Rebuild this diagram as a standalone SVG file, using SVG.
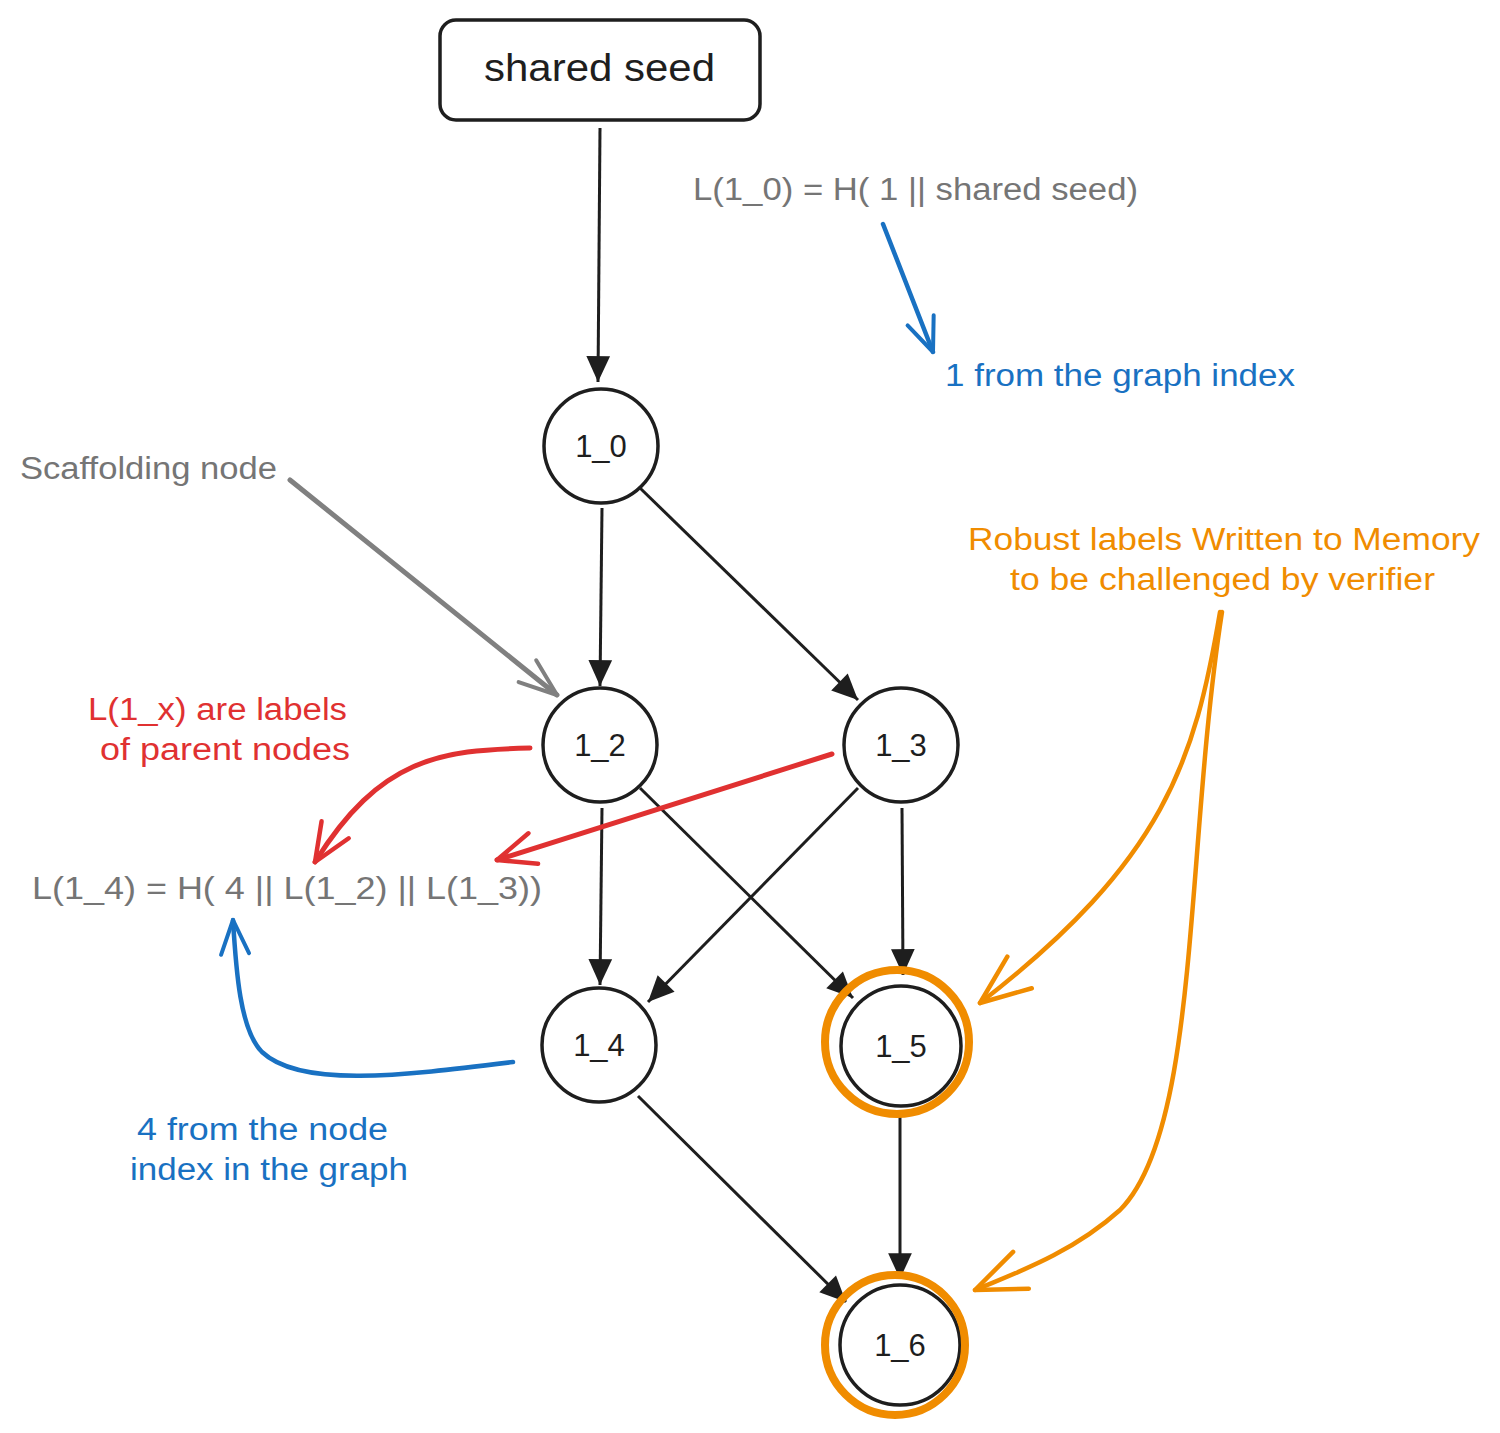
<svg xmlns="http://www.w3.org/2000/svg" width="1500" height="1433" viewBox="0 0 1500 1433">
<style>
.node{fill:#fff;stroke:#1e1e1e;stroke-width:3.5}
.nl{font-family:"Liberation Sans",sans-serif;font-size:31px;fill:#1e1e1e;text-anchor:middle}
.big{font-size:38px}
.t{font-family:"Liberation Sans",sans-serif;font-size:31px}
.gray{fill:#757575}.blue{fill:#1971c2}.red{fill:#e03131}.orange{fill:#f08c00}
.e{fill:none;stroke:#1e1e1e;stroke-width:3;marker-end:url(#ah)}
.ring{fill:none;stroke:#f08c00;stroke-width:8}
</style>
<defs>
<marker id="ah" viewBox="0 0 26 26" refX="25" refY="13" markerWidth="28" markerHeight="28" markerUnits="userSpaceOnUse" orient="auto"><path d="M1,2 L25,13 L1,24 Z" fill="#1e1e1e"/></marker>
<marker id="ob" viewBox="0 0 40 40" refX="37" refY="20" markerWidth="40" markerHeight="40" markerUnits="userSpaceOnUse" orient="auto"><path d="M3,6 L37,20 L3,34" fill="none" stroke="#1971c2" stroke-width="4" stroke-linecap="round" stroke-linejoin="round"/></marker>
<marker id="or" viewBox="0 0 44 44" refX="41" refY="22" markerWidth="44" markerHeight="44" markerUnits="userSpaceOnUse" orient="auto"><path d="M3,6 L41,22 L3,38" fill="none" stroke="#e03131" stroke-width="4.5" stroke-linecap="round" stroke-linejoin="round"/></marker>
<marker id="og" viewBox="0 0 44 44" refX="41" refY="22" markerWidth="44" markerHeight="44" markerUnits="userSpaceOnUse" orient="auto"><path d="M3,8 L41,22 L3,36" fill="none" stroke="#808080" stroke-width="4" stroke-linecap="round" stroke-linejoin="round"/></marker>
<marker id="oo" viewBox="0 0 56 56" refX="53" refY="28" markerWidth="56" markerHeight="56" markerUnits="userSpaceOnUse" orient="auto"><path d="M3,8 L53,28 L3,48" fill="none" stroke="#f08c00" stroke-width="4.5" stroke-linecap="round" stroke-linejoin="round"/></marker>
</defs>

<g id="connectors">
<path class="e" d="M600,128 L598,382"/>
<path class="e" d="M602,508 L600,686"/>
<path class="e" d="M640,488 L858,700"/>
<path class="e" d="M602,808 L600,985"/>
<path class="e" d="M640,788 L853,998"/>
<path class="e" d="M858,788 L648,1002"/>
<path class="e" d="M902,808 L903,975"/>
<path class="e" d="M638,1096 L846,1302"/>
<path class="e" d="M900,1115 L900,1279"/>
<path d="M883,224 L933,352" fill="none" stroke="#1971c2" stroke-width="4.5" stroke-linecap="round" marker-end="url(#ob)"/>
<path d="M290,480 L557,695" fill="none" stroke="#808080" stroke-width="5" stroke-linecap="round" marker-end="url(#og)"/>
<path d="M530,748 C440,750 380,758 315,862" fill="none" stroke="#e03131" stroke-width="5" stroke-linecap="round" marker-end="url(#or)"/>
<path d="M832,754 L497,860" fill="none" stroke="#e03131" stroke-width="5" stroke-linecap="round" marker-end="url(#or)"/>
<path d="M513,1062 C400,1076 300,1088 262,1052 C240,1030 236,970 233,920" fill="none" stroke="#1971c2" stroke-width="4.5" stroke-linecap="round" marker-end="url(#ob)"/>
<path d="M1220,612 C1195,760 1165,860 980,1003" fill="none" stroke="#f08c00" stroke-width="4.5" stroke-linecap="round" marker-end="url(#oo)"/>
<path d="M1222,612 C1185,850 1200,1130 1120,1210 C1070,1255 1010,1275 975,1290" fill="none" stroke="#f08c00" stroke-width="4.5" stroke-linecap="round" marker-end="url(#oo)"/>
</g>

<g id="seed">
<rect x="440" y="20" width="320" height="100" rx="16" class="node"/>
<text x="484" y="81" class="nl big" text-anchor="start" style="text-anchor:start" textLength="231" lengthAdjust="spacingAndGlyphs">shared seed</text>
</g>
<g id="n1_0"><circle cx="601" cy="446" r="57" class="node"/><text x="601" y="457" class="nl">1_0</text></g>
<g id="n1_2"><circle cx="600" cy="745" r="57" class="node"/><text x="600" y="756" class="nl">1_2</text></g>
<g id="n1_3"><circle cx="901" cy="745" r="57" class="node"/><text x="901" y="756" class="nl">1_3</text></g>
<g id="n1_4"><circle cx="599" cy="1045" r="57" class="node"/><text x="599" y="1056" class="nl">1_4</text></g>
<g id="n1_5"><circle cx="901" cy="1046" r="60" class="node"/><circle cx="897" cy="1042" r="72" class="ring"/><text x="901" y="1057" class="nl">1_5</text></g>
<g id="n1_6"><circle cx="900" cy="1345" r="60" class="node"/><circle cx="895" cy="1345" r="70" class="ring"/><text x="900" y="1356" class="nl">1_6</text></g>

<g id="labels">
<text x="693" y="200" class="t gray" textLength="445" lengthAdjust="spacingAndGlyphs">L(1_0) = H( 1 || shared seed)</text>
<text x="945" y="386" class="t blue" textLength="350" lengthAdjust="spacingAndGlyphs">1 from the graph index</text>
<text x="20" y="479" class="t gray" textLength="257" lengthAdjust="spacingAndGlyphs">Scaffolding node</text>
<text x="88" y="720" class="t red" textLength="259" lengthAdjust="spacingAndGlyphs">L(1_x) are labels</text>
<text x="100" y="760" class="t red" textLength="250" lengthAdjust="spacingAndGlyphs">of parent nodes</text>
<text x="32" y="899" class="t gray" textLength="510" lengthAdjust="spacingAndGlyphs">L(1_4) = H( 4 || L(1_2) || L(1_3))</text>
<text x="137" y="1140" class="t blue" textLength="251" lengthAdjust="spacingAndGlyphs">4 from the node</text>
<text x="130" y="1180" class="t blue" textLength="278" lengthAdjust="spacingAndGlyphs">index in the graph</text>
<text x="968" y="550" class="t orange" textLength="512" lengthAdjust="spacingAndGlyphs">Robust labels Written to Memory</text>
<text x="1010" y="590" class="t orange" textLength="425" lengthAdjust="spacingAndGlyphs">to be challenged by verifier</text>
</g>
</svg>
